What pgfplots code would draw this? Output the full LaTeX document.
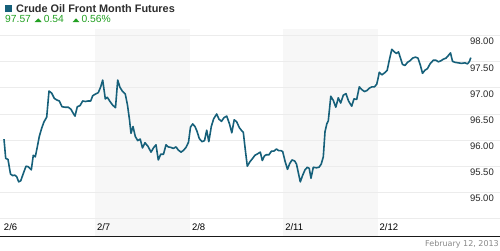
\documentclass[border=0pt]{standalone}
\usepackage{pgfplots}
\pgfplotsset{compat=1.18}
\usepackage{fontspec}
\setmainfont{Liberation Sans}
\newfontfamily\dejavu{DejaVu Sans}
\definecolor{lineblue}{RGB}{22,96,122}
\definecolor{band}{RGB}{247,247,247}
\definecolor{gridc}{RGB}{236,236,236}
\definecolor{upgreen}{RGB}{34,160,34}
\definecolor{titlegray}{RGB}{45,45,45}
\definecolor{footgray}{RGB}{136,136,136}
\begin{document}
\begin{tikzpicture}
\begin{axis}[
 set layers,
 scale only axis, width=500pt, height=250pt,
 xmin=0, xmax=500, ymin=93.895, ymax=98.684,
 axis line style={draw=none},
 major tick length=0pt,
 ymajorgrids, major grid style={gridc, line width=0.9pt},
 ytick={94.5,95,95.5,96,96.5,97,97.5,98},
 yticklabels={{},95.00,95.50,96.00,96.50,97.00,97.50,98.00},
 yticklabel pos=right,
 yticklabel style={anchor=east, inner sep=0pt, xshift=-6pt, yshift=-6pt, font=\fontsize{9.5}{10}\selectfont, text=black!85},
 xtick={2,95,190,283.3,377.7},
 xticklabels={2/6,2/7,2/8,2/11,2/12},
 xticklabel style={anchor=west, inner sep=0pt, xshift=1.8pt, yshift=23.3pt, font=\fontsize{9.5}{10}\selectfont, text=black},
 clip=false,
]
\begin{pgfonlayer}{axis background}
\fill[band] (axis cs:95,94.172) rectangle (axis cs:190,98.123);
\fill[band] (axis cs:283.3,94.172) rectangle (axis cs:377.7,98.123);
\end{pgfonlayer}
\draw[line width=1.5pt, black!90] (axis cs:0,94.157) -- (axis cs:500,94.157);
\addplot[lineblue, line width=1.6pt, line join=round, mark=none] coordinates {
(4,96.02) (5.7,95.65) (8,95.63) (10.5,95.35) (12.7,95.32) (14.7,95.33) (16.7,95.30)
(18.7,95.20) (20.7,95.22) (23.3,95.36) (26,95.50) (28.3,95.49) (31.3,95.43) (33.3,95.71)
(35.3,95.68) (37.3,95.87) (39.3,96.07) (41.7,96.23) (44,96.35) (46.7,96.44) (49,96.94)
(51.7,96.90) (54.3,96.80) (56.7,96.77) (59.3,96.75) (62,96.64) (65,96.63) (68.3,96.63)
(71,96.59) (73.3,96.51) (75,96.46) (77.3,96.64) (80,96.66) (82.7,96.75) (85.3,96.74)
(88.3,96.75) (90.7,96.75) (92.7,96.85) (95.3,96.88) (98.3,96.91) (100.7,97.02) (102.7,97.15)
(105.3,96.79) (107.3,96.82) (110,96.74) (112.7,96.67) (115.5,96.62) (117.7,97.15) (120,97.01)
(122.3,96.94) (125.3,96.88) (127.5,96.67) (129.5,96.39) (131,96.13) (133,96.26) (135.3,96.07)
(137.7,95.99) (140.2,96.02) (142.5,95.85) (145,95.95) (148,95.88) (151,95.77) (153.8,95.86)
(156,95.91) (158.3,95.62) (160.7,95.73) (163.5,95.73) (166,95.91) (168.3,95.87) (171,95.86)
(173.3,95.84) (176,95.87) (178.3,95.81) (181,95.77) (183.3,95.80) (186,95.86) (188.5,95.96)
(190.5,96.25) (192.7,96.31) (195,96.26) (197,96.17) (199.3,96.03) (202,95.97) (204.5,95.99)
(206.7,96.19) (208.8,95.97) (211.3,96.26) (213.7,96.41) (216.7,96.50) (219,96.40) (221.5,96.36)
(224,96.43) (226.7,96.46) (229.5,96.31) (231.8,96.14) (234.2,96.39) (236.7,96.35) (239.3,96.24)
(241.7,96.18) (243.3,96.15) (245.2,95.83) (247.3,95.50) (249.7,95.58) (252.2,95.64) (255,95.71)
(257.8,95.74) (260.3,95.77) (262.3,95.61) (264.5,95.70) (266.5,95.72) (269,95.72) (271.5,95.79)
(274,95.79) (276.5,95.83) (278.5,95.80) (280.8,95.80) (282.7,95.78) (285,95.60) (287.5,95.44)
(289.7,95.55) (292,95.62) (294.7,95.60) (296.5,95.54) (298.5,95.36) (300.3,95.20) (302.5,95.32)
(305,95.43) (307.3,95.48) (309.2,95.46) (311,95.27) (313.3,95.48) (316.3,95.47) (319,95.48)
(321.2,95.54) (323.3,95.68) (325,96.16) (326.8,96.31) (328.3,96.37) (330.8,96.84) (333.3,96.76)
(335.8,96.63) (338.3,96.81) (340.7,96.71) (343.3,96.86) (346,96.89) (348.5,96.75) (351.7,96.65)
(354,96.79) (356.7,96.78) (359.3,97.02) (361.7,96.97) (364.5,96.93) (367,96.95) (369.7,97.00)
(372,97.02) (374.5,97.02) (376.7,97.07) (377.7,97.15) (379.3,97.30) (381.8,97.25) (384.7,97.29)
(387.2,97.34) (389.5,97.55) (391.8,97.74) (394.3,97.69) (396.5,97.66) (398.5,97.69) (400.5,97.57)
(402.5,97.45) (405,97.43) (407.5,97.49) (410,97.52) (412.5,97.57) (415.5,97.59) (418,97.57)
(420.3,97.44) (422.5,97.28) (425,97.34) (427.5,97.37) (430,97.46) (433.3,97.53) (436,97.53)
(438.3,97.50) (441,97.52) (443.3,97.55) (446,97.57) (448.3,97.62) (450.5,97.67) (452.5,97.51)
(455,97.49) (458.5,97.48) (461.5,97.47) (465,97.48) (467.5,97.46) (469.5,97.51) (470.8,97.58)
};
\end{axis}
\begin{scope}[x=1pt, y=-1pt, shift={(0pt,250pt)}]
\fill[lineblue] (5,5) rectangle (12,12);
\node[anchor=base west, inner sep=0pt, text=titlegray, font=\fontsize{10.9}{12}\selectfont\bfseries] at (16,12) {Crude Oil Front Month Futures};
\node[anchor=base west, inner sep=0pt, text=upgreen, font=\fontsize{10.3}{12}\selectfont] at (5,22.7) {97.57};
\fill[upgreen] (34.7,22) -- (41.7,22) -- (38.2,18.3) -- cycle;
\node[anchor=base west, inner sep=0pt, text=upgreen, font=\fontsize{10.3}{12}\selectfont] at (43.7,22.7) {0.54};
\fill[upgreen] (72.7,22) -- (79.3,22) -- (76,18.3) -- cycle;
\node[anchor=base west, inner sep=0pt, text=upgreen, font=\fontsize{10.3}{12}\selectfont] at (81.3,22.7) {0.56\%};
\node[anchor=base east, inner sep=0pt, text=footgray, font=\dejavu\fontsize{8}{9}\selectfont] at (499,246.7) {February 12, 2013};
\end{scope}
\pgfresetboundingbox
\path (0,0) rectangle (500pt,250pt);
\end{tikzpicture}
\end{document}
